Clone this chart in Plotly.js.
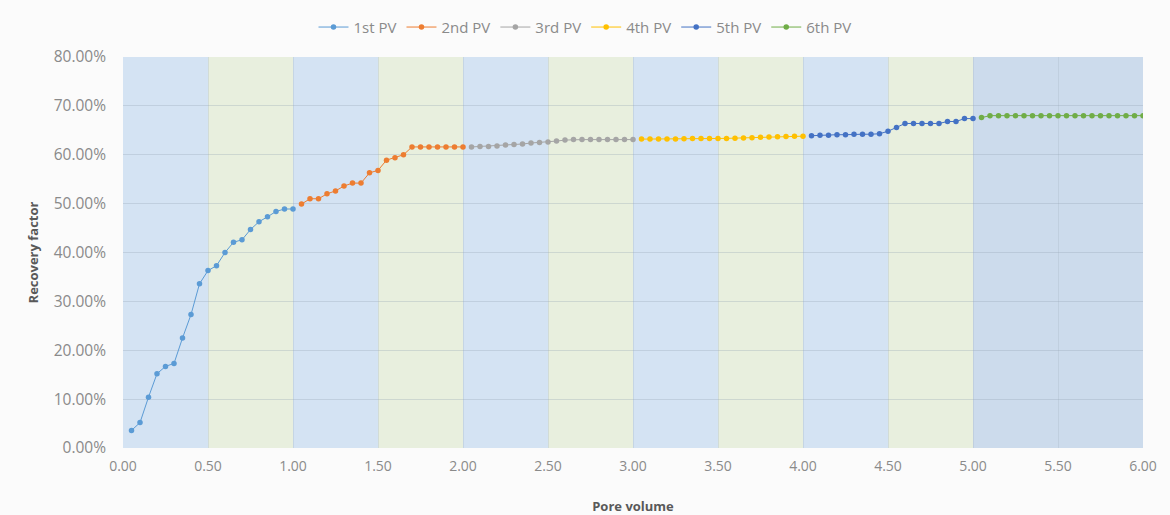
<!DOCTYPE html>
<html>
<head>
<meta charset="utf-8">
<script src="https://cdn.plot.ly/plotly-3.0.1.min.js"></script>
<style>
  html, body { margin: 0; padding: 0; background: #ffffff; }
  #chart { width: 1170px; height: 515px; }
</style>
</head>
<body>
<div id="chart"></div>
<script>
// ---- Data ----
const seriesNames = ["1st PV", "2nd PV", "3rd PV", "4th PV", "5th PV", "6th PV"];

const pv1X = [0.05, 0.10, 0.15, 0.20, 0.25, 0.30, 0.35, 0.40, 0.45, 0.50, 0.55, 0.60, 0.65, 0.70, 0.75, 0.80, 0.85, 0.90, 0.95, 1.00];
const pv1Y = [0.036, 0.052, 0.104, 0.152, 0.167, 0.173, 0.225, 0.273, 0.336, 0.363, 0.373, 0.400, 0.421, 0.426, 0.447, 0.463, 0.473, 0.484, 0.489, 0.489];

const pv2X = [1.05, 1.10, 1.15, 1.20, 1.25, 1.30, 1.35, 1.40, 1.45, 1.50, 1.55, 1.60, 1.65, 1.70, 1.75, 1.80, 1.85, 1.90, 1.95, 2.00];
const pv2Y = [0.499, 0.510, 0.510, 0.520, 0.526, 0.536, 0.542, 0.542, 0.563, 0.568, 0.589, 0.594, 0.600, 0.616, 0.616, 0.616, 0.616, 0.616, 0.616, 0.616];

const pv3X = [2.05, 2.10, 2.15, 2.20, 2.25, 2.30, 2.35, 2.40, 2.45, 2.50, 2.55, 2.60, 2.65, 2.70, 2.75, 2.80, 2.85, 2.90, 2.95, 3.00];
const pv3Y = [0.616, 0.617, 0.617, 0.618, 0.620, 0.621, 0.622, 0.624, 0.625, 0.626, 0.628, 0.630, 0.631, 0.631, 0.631, 0.631, 0.631, 0.631, 0.631, 0.631];

const pv4X = [3.05, 3.10, 3.15, 3.20, 3.25, 3.30, 3.35, 3.40, 3.45, 3.50, 3.55, 3.60, 3.65, 3.70, 3.75, 3.80, 3.85, 3.90, 3.95, 4.00];
const pv4Y = [0.632, 0.632, 0.632, 0.632, 0.632, 0.6325, 0.633, 0.633, 0.633, 0.633, 0.6335, 0.634, 0.6345, 0.635, 0.636, 0.6365, 0.637, 0.6375, 0.638, 0.638];

const pv5X = [4.05, 4.10, 4.15, 4.20, 4.25, 4.30, 4.35, 4.40, 4.45, 4.50, 4.55, 4.60, 4.65, 4.70, 4.75, 4.80, 4.85, 4.90, 4.95, 5.00];
const pv5Y = [0.639, 0.640, 0.640, 0.641, 0.641, 0.642, 0.642, 0.642, 0.643, 0.648, 0.656, 0.664, 0.664, 0.664, 0.664, 0.664, 0.668, 0.668, 0.674, 0.674];

const pv6X = [5.05, 5.10, 5.15, 5.20, 5.25, 5.30, 5.35, 5.40, 5.45, 5.50, 5.55, 5.60, 5.65, 5.70, 5.75, 5.80, 5.85, 5.90, 5.95, 6.00];
const pv6Y = [0.676, 0.680, 0.680, 0.680, 0.680, 0.680, 0.680, 0.680, 0.680, 0.680, 0.680, 0.680, 0.680, 0.680, 0.680, 0.680, 0.680, 0.680, 0.680, 0.680];

// background band limits (pore volume) and their kind
const bandStarts = [0, 0.5, 1.0, 1.5, 2.0, 2.5, 3.0, 3.5, 4.0, 4.5, 5.0];
const bandEnds   = [0.5, 1.0, 1.5, 2.0, 2.5, 3.0, 3.5, 4.0, 4.5, 5.0, 6.0];
const bandKinds  = ["blue", "green", "blue", "green", "blue", "green", "blue", "green", "blue", "green", "dark"];

// ---- Styles ----
const seriesColors = ["#5B9BD5", "#ED7D31", "#A5A5A5", "#FFC000", "#4472C4", "#70AD47"];
const bandFill = { blue: "#d4e3f3", green: "#e8efde", dark: "#ccdbec" };

const xs = [pv1X, pv2X, pv3X, pv4X, pv5X, pv6X];
const ys = [pv1Y, pv2Y, pv3Y, pv4Y, pv5Y, pv6Y];

const traces = seriesNames.map((name, i) => ({
  type: "scatter",
  mode: "lines+markers",
  name: name,
  x: xs[i],
  y: ys[i],
  line: { color: seriesColors[i], width: 1 },
  marker: { color: seriesColors[i], size: 5.5 },
  hoverinfo: "x+y+name"
}));

const shapes = bandStarts.map((s, i) => ({
  type: "rect",
  xref: "x", yref: "y",
  x0: s, x1: bandEnds[i],
  y0: 0, y1: 0.8,
  fillcolor: bandFill[bandKinds[i]],
  line: { width: 0 },
  layer: "below"
}));

const fam = "Open Sans, Lato, sans-serif";
const titleFont = { family: fam, size: 13, color: "#595959", weight: "bold" };

const layout = {
  width: 1170,
  height: 515,
  paper_bgcolor: "#fbfbfb",
  plot_bgcolor: "#fbfbfb",
  margin: { l: 123, r: 27, t: 57, b: 67 },
  showlegend: true,
  legend: {
    orientation: "h",
    xref: "container", yref: "container",
    x: 0.5, xanchor: "center",
    y: 0.947, yanchor: "middle",
    font: { family: fam, size: 15, color: "#8a8a8a" },
    bgcolor: "rgba(0,0,0,0)",
    itemwidth: 30,
    tracegroupgap: 0
  },
  xaxis: {
    range: [0, 6],
    dtick: 0.5,
    tick0: 0,
    tickformat: ".2f",
    showgrid: true,
    gridcolor: "rgba(170,185,200,0.35)",
    gridwidth: 1,
    zeroline: false,
    showline: false,
    ticks: "",
    ticklabelstandoff: 8,
    tickfont: { family: fam, size: 14, color: "#8a8a8a" },
    title: { text: "Pore volume", font: titleFont, standoff: 28 },
    fixedrange: true
  },
  yaxis: {
    range: [0, 0.8],
    dtick: 0.1,
    tick0: 0,
    tickformat: ".2%",
    showgrid: true,
    gridcolor: "rgba(150,165,180,0.32)",
    gridwidth: 1,
    zeroline: false,
    showline: false,
    ticks: "",
    ticklabelstandoff: 16,
    tickfont: { family: fam, size: 15.5, color: "#8a8a8a" },
    title: { text: "Recovery factor", font: titleFont, standoff: 12 },
    fixedrange: true
  },
  shapes: shapes
};

Plotly.newPlot("chart", traces, layout, { displayModeBar: false, staticPlot: true });
</script>
</body>
</html>
